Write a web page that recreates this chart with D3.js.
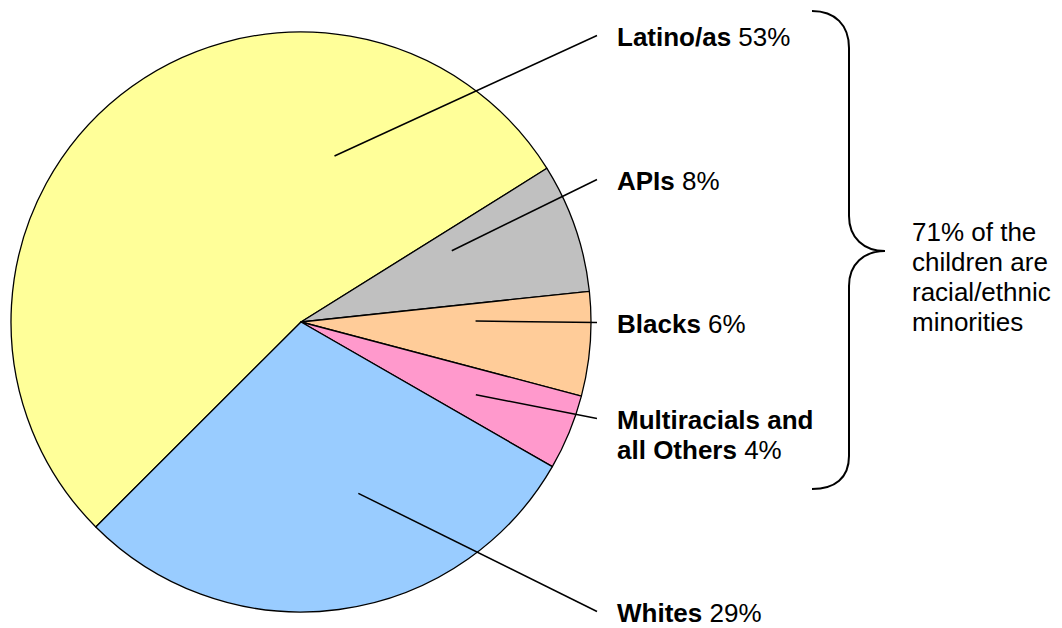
<!DOCTYPE html>
<html>
<head>
	<title>Children by race/ethnicity</title>
	<meta charset="utf-8">
	<script src="https://d3js.org/d3.v7.min.js"></script>
	<style>
		body { margin: 0; background: #fff; }
		text { font-family: "Liberation Sans", Arial, sans-serif; font-size: 26px; fill: #000; }
	</style>
</head>
<body>
	<div id="chartDiv"></div>
	<script>

		// data
		const groups = ['Latino/as', 'APIs', 'Blacks', 'Multiracials and|all Others', 'Whites'];
		const shares = [53.6, 7.2, 5.8, 4.2, 29.2];
		const pctLabels = ['53%', '8%', '6%', '4%', '29%'];
		const colors = ['#FFFF99', '#C0C0C0', '#FFCC99', '#FF99CC', '#99CCFF'];
		const noteLines = ['71% of the', 'children are', 'racial/ethnic', 'minorities'];

		// layout
		const width = 1062, height = 628;
		const cx = 301, cy = 322, radius = 290;
		const startDeg = 225.04;
		const labelX = 617;
		const labelBase = [46, 190, 333, 429, 622];
		// where each leader line starts inside its slice: [angle deg, fraction of radius]
		const leaderStart = [[11.4, 0.584], [64.7, 0.575], [89.7, 0.602], [112.6, 0.653], [161.5, 0.623]];
		const lineHeight = 30;

		const svg = d3.select('#chartDiv').append('svg')
			.attr('width', width)
			.attr('height', height);

		const data = groups.map((g, i) => ({ name: g, value: shares[i], pct: pctLabels[i], color: colors[i] }));

		const pie = d3.pie()
			.sort(null)
			.value(d => d.value)
			.startAngle(startDeg * Math.PI / 180)
			.endAngle(startDeg * Math.PI / 180 + 2 * Math.PI);

		const arc = d3.arc().innerRadius(0).outerRadius(radius);

		const gPie = svg.append('g').attr('transform', `translate(${cx},${cy})`);

		gPie.selectAll('path.slice')
			.data(pie(data))
			.enter().append('path')
			.attr('class', 'slice')
			.attr('d', arc)
			.attr('fill', d => d.data.color)
			.attr('stroke', '#000')
			.attr('stroke-width', 1.3)
			.attr('stroke-linejoin', 'round');

		//leader lines
		data.forEach((d, i) => {
			const p = d3.pointRadial(leaderStart[i][0] * Math.PI / 180, leaderStart[i][1] * radius);
			svg.append('line')
				.attr('x1', cx + p[0])
				.attr('y1', cy + p[1])
				.attr('x2', cx + radius + 6)
				.attr('y2', labelBase[i] - 10.5)
				.attr('stroke', '#000')
				.attr('stroke-width', 1.5);
		});

		//labels: bold name + regular percent
		data.forEach((d, i) => {
			const parts = d.name.split('|');
			const t = svg.append('text')
				.attr('x', labelX)
				.attr('y', labelBase[i]);
			parts.forEach((p, j) => {
				const last = j === parts.length - 1;
				const ts = t.append('tspan')
					.attr('font-weight', 'bold')
					.text(p);
				if (j > 0) ts.attr('x', labelX).attr('dy', lineHeight);
				if (last) {
					t.append('tspan').text(' ' + d.pct);
				}
			});
		});

		// curly brace for the minority groups
		const brace = d3.path();
		brace.moveTo(812, 11);
		brace.bezierCurveTo(835, 11, 849, 25, 849, 48);
		brace.lineTo(849, 216);
		brace.bezierCurveTo(849, 238, 864, 251, 885, 251);
		brace.bezierCurveTo(864, 251, 849, 264, 849, 286);
		brace.lineTo(849, 456);
		brace.bezierCurveTo(849, 478, 835, 489, 812, 489);

		svg.append('path')
			.attr('d', brace.toString())
			.attr('fill', 'none')
			.attr('stroke', '#000')
			.attr('stroke-width', 2);

		const note = svg.append('text')
			.attr('x', 912)
			.attr('y', 241);
		noteLines.forEach((l, i) => {
			note.append('tspan')
				.attr('x', 912)
				.attr('dy', i === 0 ? 0 : lineHeight)
				.text(l);
		});

	</script>
</body>
</html>
